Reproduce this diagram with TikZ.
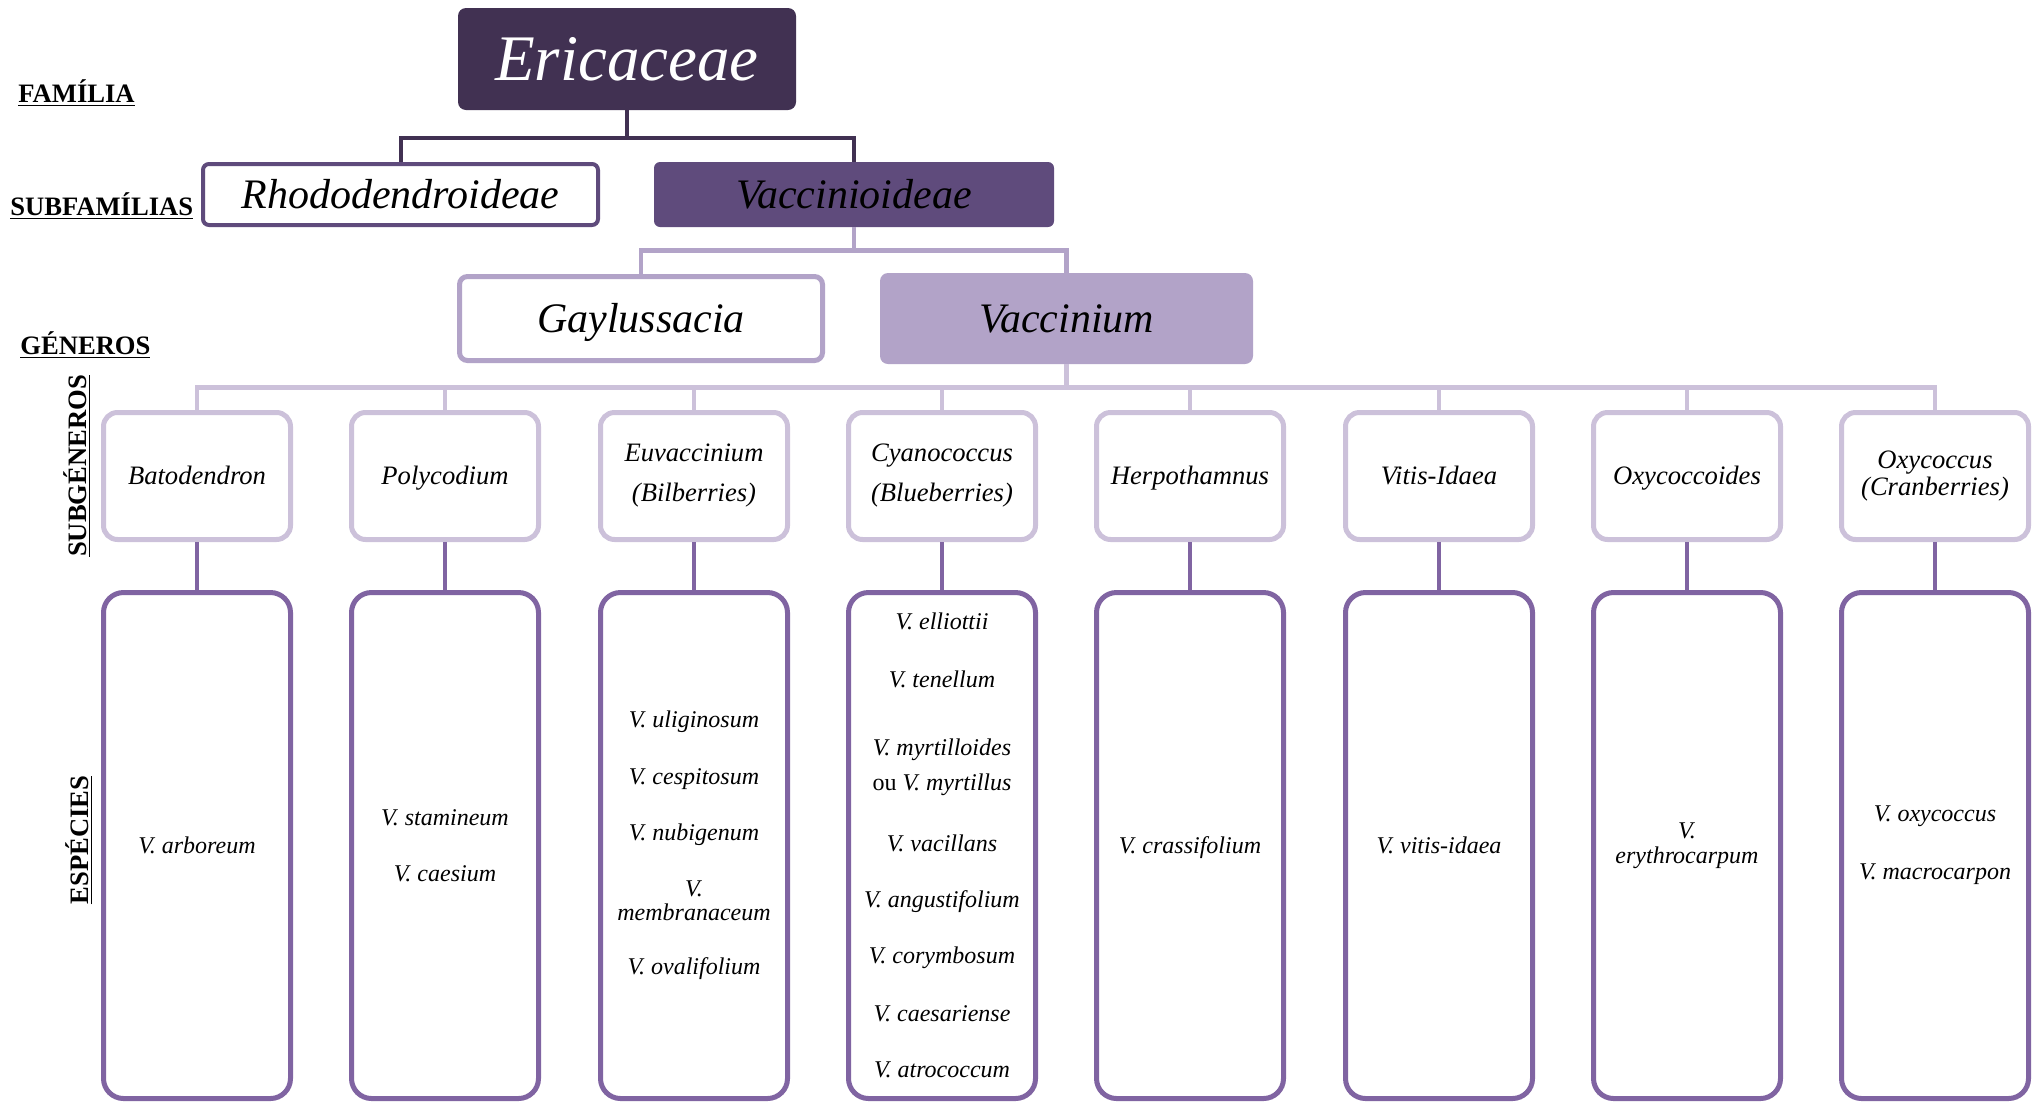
\documentclass[tikz,border=0pt]{standalone}
\usepackage{fontspec}
\setmainfont{Liberation Serif}
\definecolor{cA}{HTML}{413152}
\definecolor{cB}{HTML}{5F4B7C}
\definecolor{cC}{HTML}{B2A3C8}
\definecolor{cD}{HTML}{CCC1DA}
\definecolor{cE}{HTML}{8064A2}
\begin{document}
\begin{tikzpicture}[x=0.5pt,y=-0.5pt,
  lvl/.style={font=\bfseries\fontsize{13.3}{16}\selectfont, inner sep=0pt},
  bigline/.style={text height=13.9pt, text depth=0pt},
  subline/.style={text height=8.8pt, text depth=0pt},
  specline/.style={text height=7.9pt, text depth=0pt},
  topbox/.style={fill=cA, text=white, rounded corners=4pt, minimum width=169pt, minimum height=51pt, inner sep=0pt, text height=21.5pt, text depth=0pt, font=\itshape\fontsize{32.5}{39}\selectfont},
  famwhite/.style={draw=cB, line width=2pt, fill=white, rounded corners=3pt, minimum width=197.5pt, minimum height=30.5pt, inner sep=0pt, bigline, font=\itshape\fontsize{21}{25}\selectfont},
  famfill/.style={fill=cB, rounded corners=3pt, minimum width=200pt, minimum height=32.5pt, inner sep=0pt, bigline, font=\itshape\fontsize{21}{25}\selectfont},
  genwhite/.style={draw=cC, line width=2.5pt, fill=white, rounded corners=4pt, minimum width=181.5pt, minimum height=42pt, inner sep=0pt, bigline, font=\itshape\fontsize{21}{25}\selectfont},
  genfill/.style={fill=cC, rounded corners=4pt, minimum width=186.5pt, minimum height=45.5pt, inner sep=0pt, bigline, font=\itshape\fontsize{21}{25}\selectfont},
  subbox/.style={draw=cD, line width=2.5pt, fill=white, rounded corners=7pt, minimum width=93.5pt, minimum height=63.5pt, inner sep=0pt, align=center, font=\itshape\fontsize{13.3}{16}\selectfont},
  specbox/.style={draw=cE, line width=2.5pt, fill=white, rounded corners=10pt, minimum width=93.5pt, minimum height=253pt, inner sep=0pt, align=center, font=\itshape\fontsize{12}{14}\selectfont},
  conA/.style={draw=cA, line width=2pt},
  conB/.style={draw=cC, line width=2.25pt},
  conC/.style={draw=cD, line width=2.25pt},
  conD/.style={draw=cE, line width=2.25pt}
]
\useasboundingbox (0,0) rectangle (2044,1104);

% level labels
\node[lvl, anchor=west] (lfam) at (18,93) {\underline{FAMÍLIA}};
\node[lvl, anchor=west] (lsubfam) at (10,206) {\underline{SUBFAMÍLIAS}};
\node[lvl, anchor=west] (lgen) at (20,345) {\underline{GÉNEROS}};
\node[lvl, rotate=90] (lsubgen) at (77,466) {\underline{SUBGÉNEROS}};
\node[lvl, rotate=90] (lspec) at (79,840) {\underline{ESPÉCIES}};

% family / subfamilies / genera
\node[topbox] (eric) at (627,59) {Ericaceae};
\node[famwhite] (rhodo) at (400.5,194.5) {Rhododendroideae};
\node[famfill] (vaccA) at (854,194.5) {Vaccinioideae};
\node[genwhite] (gayl) at (641,318.5) {Gaylussacia};
\node[genfill] (vaccB) at (1066.5,318.5) {Vaccinium};

% subgenera
\node[subbox, subline] (sub1) at (197,476) {Batodendron};
\node[subbox, subline] (sub2) at (445,476) {Polycodium};
\node[subbox] (sub3) at (694,476) {Euvaccinium\\[4pt](Bilberries)};
\node[subbox] (sub4) at (942,476) {Cyanococcus\\[4pt](Blueberries)};
\node[subbox, subline] (sub5) at (1190,476) {Herpothamnus};
\node[subbox, subline] (sub6) at (1439,476) {Vitis-Idaea};
\node[subbox, subline] (sub7) at (1687,476) {Oxycoccoides};
\node[subbox] (sub8) at (1935,476) {Oxycoccus\\[-2.5pt](Cranberries)};

% species
\node[specbox, specline] (spec1) at (197,845.5) {V. arboreum};
\node[specbox] (spec2) at (445,845.5) {V. stamineum\\[14pt]V. caesium};
\node[specbox] (spec3) at (694,845.5) {V. uliginosum\\[14.5pt]V. cespitosum\\[14pt]V. nubigenum\\[14pt]V.\\[-2pt]membranaceum\\[13pt]V. ovalifolium};
\node[specbox] (spec4) at (942,845.5) {V. elliottii\\[15pt]V. tenellum\\[20pt]V. myrtilloides\\[3.5pt]\textup{ou} V. myrtillus\\[16.5pt]V. vacillans\\[14pt]V. angustifolium\\[14pt]V. corymbosum\\[15pt]V. caesariense\\[14pt]V. atrococcum};
\node[specbox, specline] (spec5) at (1190,845.5) {V. crassifolium};
\node[specbox, specline] (spec6) at (1439,845.5) {V. vitis-idaea};
\node[specbox] (spec7) at (1687,845.5) {V.\\[-1.5pt]erythrocarpum};
\node[specbox] (spec8) at (1935,845.5) {V. oxycoccus\\[15pt]V. macrocarpon};

% connectors
\draw[conA] (eric.south) -- ++(0,28) coordinate (hubA);
\draw[conA] (hubA) -| (rhodo.north);
\draw[conA] (hubA) -| (vaccA.north);
\draw[conB] (vaccA.south) -- ++(0,23) coordinate (hubB);
\draw[conB] (hubB) -| (gayl.north);
\draw[conB] (hubB) -| (vaccB.north);
\draw[conC] (vaccB.south) -- ++(0,23) coordinate (hubC);
\foreach \k in {1,...,8} {\draw[conC] (hubC) -| (sub\k.north);}
\foreach \k in {1,...,8} {\draw[conD] (sub\k.south) -- (spec\k.north);}
\end{tikzpicture}
\end{document}
